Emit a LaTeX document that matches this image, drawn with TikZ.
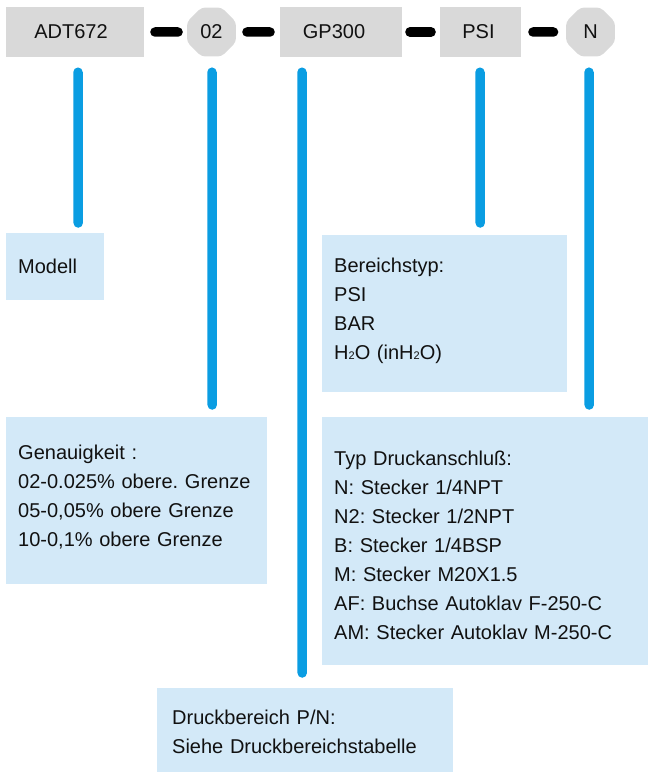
\documentclass[tikz,border=0pt]{standalone}
\usepackage{fontspec}
\setmainfont{Liberation Sans}
\usetikzlibrary{shapes.geometric}
\definecolor{topgray}{HTML}{D9D9D9}
\definecolor{boxblue}{HTML}{D3E9F8}
\definecolor{lineblue}{HTML}{0A9DE2}
\definecolor{txt}{HTML}{111111}
\newcommand{\subtwo}{{\fontsize{11}{11}\selectfont 2}}
\frenchspacing
\begin{document}
\begin{tikzpicture}[x=1pt,y=-1pt,
  topbox/.style={rectangle, fill=topgray, inner sep=0pt, minimum height=50pt, text=txt, font=\fontsize{20}{24}\selectfont},
  topoct/.style={regular polygon, regular polygon sides=8, rounded corners=4pt, fill=topgray, inner sep=0pt, minimum size=53pt, text=txt, font=\fontsize{20}{24}\selectfont},
  infobox/.style={rectangle, fill=boxblue, anchor=north west, inner xsep=12pt, inner ysep=0pt, align=left, text=txt, font=\fontsize{20}{29}\selectfont},
  bar/.style={draw=black, line width=9.5pt, line cap=round},
  lead/.style={draw=lineblue, line width=9.5pt, line cap=round}]
\useasboundingbox (0,0) rectangle (652,776);

% top row
\node[topbox, minimum width=138pt] (adt) at (75,32) {\hspace*{-8pt}ADT672};
\node[topoct] (o2) at (211.5,32) {02};
\node[topbox, minimum width=122pt] (gp) at (341,32) {\hspace*{-14pt}GP300};
\node[topbox, minimum width=81pt] (psi) at (480.5,32) {\hspace*{-4pt}PSI};
\node[topoct] (n) at (590.5,32) {N};

% info boxes
\node[infobox, text width=74pt, text height=40pt, text depth=27pt] (modell) at (6,233) {Modell};
\node[infobox, text width=221pt, text height=37pt, text depth=120pt] (bereich) at (322,235)
  {Bereichstyp:\\PSI\\BAR\\H\subtwo O (inH\subtwo O)};
\node[infobox, text width=237pt, text height=42pt, text depth=125pt] (genau) at (6,417)
  {Genauigkeit :\\02-0.025\% obere. Grenze\\05-0,05\% obere Grenze\\10-0,1\% obere Grenze};
\node[infobox, text width=302pt, text height=48pt, text depth=200pt] (typ) at (322,417)
  {Typ Druckanschluß:\\N: Stecker 1/4NPT\\N2: Stecker 1/2NPT\\B: Stecker 1/4BSP\\M: Stecker M20X1.5\\AF: Buchse Autoklav F-250-C\\AM: Stecker Autoklav M-250-C};
\node[infobox, inner xsep=15pt, text width=266pt, text height=36pt, text depth=48pt] (druck) at (157,688)
  {Druckbereich P/N:\\Siehe Druckbereichstabelle};

% black bars between code parts
\draw[bar, shorten <=10.75pt, shorten >=8.75pt] (adt.east) -- (o2.west);
\draw[bar, shorten <=10.75pt, shorten >=9.75pt] (o2.east) -- (gp.west);
\draw[bar, shorten <=7.75pt, shorten >=8.75pt] (gp.east) -- (psi.west);
\draw[bar, shorten <=11.75pt, shorten >=12.25pt] (psi.east) -- (n.west);

% blue leader lines
\draw[lead] ([xshift=3pt,yshift=-15pt]adt.south) -- ([xshift=23pt,yshift=10pt]modell.north);
\draw[lead] ([xshift=0.5pt,yshift=-15.5pt]o2.south) -- ([xshift=75.5pt,yshift=12pt]genau.north);
\draw[lead] ([xshift=-39pt,yshift=-15pt]gp.south) -- ([xshift=-3pt,yshift=15pt]druck.north);
\draw[lead] ([xshift=-0.5pt,yshift=-15pt]psi.south) -- ([xshift=35.5pt,yshift=12pt]bereich.north);
\draw[lead] ([xshift=-1.5pt,yshift=-15.5pt]n.south) -- ([xshift=104pt,yshift=12pt]typ.north);
\end{tikzpicture}
\end{document}
